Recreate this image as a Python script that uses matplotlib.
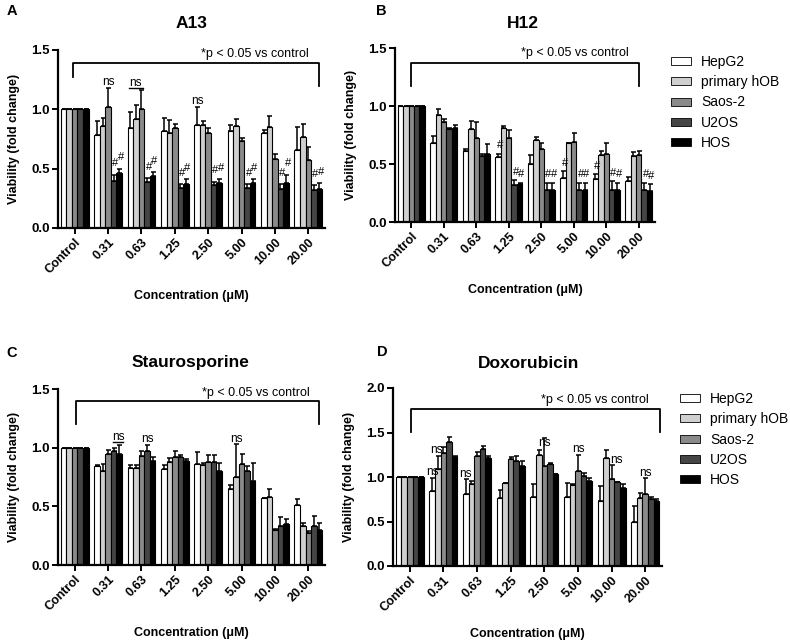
import matplotlib
matplotlib.use('Agg')
import matplotlib.pyplot as plt
from matplotlib.patches import Patch
import numpy as np

plt.rcParams['font.family'] = ['Liberation Sans', 'DejaVu Sans']

# # # data

groups = ['Control', '0.31', '0.63', '1.25', '2.50', '5.00', '10.00', '20.00']
cells = ['HepG2', 'primary hOB', 'Saos-2', 'U2OS', 'HOS']
colors = ['white', '#cfcfcf', '#8a8a8a', '#454545', 'black']

# A13, rows follow cells
a13_mean = [[1.0, 0.78, 0.84, 0.82, 0.87, 0.82, 0.80, 0.66],
            [1.0, 0.86, 0.92, 0.80, 0.87, 0.86, 0.85, 0.77],
            [1.0, 1.02, 1.00, 0.84, 0.80, 0.73, 0.58, 0.57],
            [1.0, 0.40, 0.39, 0.34, 0.36, 0.34, 0.33, 0.32],
            [1.0, 0.46, 0.44, 0.37, 0.38, 0.38, 0.38, 0.33]]
a13_err = [[0, 0.12, 0.14, 0.11, 0.15, 0.05, 0.03, 0.19],
           [0, 0.07, 0.12, 0.11, 0.03, 0.06, 0.09, 0.11],
           [0, 0.16, 0.16, 0.04, 0.04, 0.03, 0.04, 0.11],
           [0, 0.05, 0.03, 0.03, 0.03, 0.03, 0.04, 0.04],
           [0, 0.04, 0.03, 0.04, 0.03, 0.03, 0.07, 0.05]]

# H12
h12_mean = [[1.0, 0.68, 0.61, 0.56, 0.50, 0.38, 0.37, 0.35],
            [1.0, 0.92, 0.80, 0.81, 0.71, 0.68, 0.58, 0.57],
            [1.0, 0.86, 0.72, 0.72, 0.63, 0.69, 0.59, 0.58],
            [1.0, 0.80, 0.57, 0.32, 0.28, 0.28, 0.28, 0.28],
            [1.0, 0.81, 0.59, 0.33, 0.28, 0.28, 0.28, 0.27]]
h12_err = [[0, 0.06, 0.02, 0.03, 0.08, 0.06, 0.04, 0.04],
           [0, 0.05, 0.07, 0.02, 0.02, 0.005, 0.03, 0.03],
           [0, 0.03, 0.14, 0.07, 0.05, 0.08, 0.09, 0.03],
           [0, 0.01, 0.02, 0.04, 0.06, 0.06, 0.07, 0.06],
           [0, 0.03, 0.08, 0.01, 0.06, 0.06, 0.06, 0.06]]

# Staurosporine
stau_mean = [[1.0, 0.84, 0.83, 0.82, 0.86, 0.65, 0.57, 0.51],
             [1.0, 0.80, 0.83, 0.88, 0.85, 0.75, 0.58, 0.33],
             [1.0, 0.95, 0.93, 0.92, 0.88, 0.86, 0.30, 0.27],
             [1.0, 0.97, 0.97, 0.92, 0.88, 0.80, 0.33, 0.33],
             [1.0, 0.95, 0.89, 0.89, 0.80, 0.72, 0.35, 0.30]]
stau_err = [[0, 0.01, 0.02, 0.03, 0.10, 0.03, 0.0, 0.05],
            [0, 0.06, 0.02, 0.03, 0.02, 0.28, 0.07, 0.03],
            [0, 0.03, 0.04, 0.05, 0.06, 0.09, 0.01, 0.02],
            [0, 0.03, 0.05, 0.02, 0.06, 0.04, 0.08, 0.09],
            [0, 0.07, 0.03, 0.01, 0.07, 0.15, 0.04, 0.06]]

# Doxorubicin
doxo_mean = [[1.0, 0.84, 0.81, 0.76, 0.78, 0.77, 0.73, 0.49],
             [1.0, 1.09, 0.92, 0.93, 1.25, 0.91, 1.21, 0.76],
             [1.0, 1.27, 1.24, 1.20, 1.12, 1.07, 0.98, 0.81],
             [1.0, 1.39, 1.32, 1.18, 1.15, 1.01, 0.94, 0.75],
             [1.0, 1.23, 1.21, 1.12, 1.03, 0.95, 0.88, 0.73]]
doxo_err = [[0, 0.15, 0.17, 0.09, 0.14, 0.16, 0.17, 0.18],
            [0, 0.15, 0.04, 0.005, 0.05, 0.01, 0.09, 0.06],
            [0, 0.07, 0.04, 0.03, 0.32, 0.18, 0.16, 0.18],
            [0, 0.06, 0.03, 0.06, 0.005, 0.03, 0.005, 0.03],
            [0, 0.005, 0.03, 0.06, 0.005, 0.04, 0.04, 0.02]]

# '#' marks: (group, cell)
a13_hash = [(g, c) for g in range(1, 8) for c in (3, 4)]
h12_hash = [(3, 0), (3, 3), (3, 4), (4, 3), (4, 4), (5, 0), (5, 3), (5, 4),
            (6, 0), (6, 3), (6, 4), (7, 3), (7, 4)]
# 'ns' labels: (group, bar offset, y, underline span or None)
a13_ns = [(1, 0, 1.23, None), (2, -1.0, 1.225, (-2.3, 0.3)), (4, -2, 1.07, None)]
h12_ns = []
stau_ns = [(1, 1.8, 1.095, (0.9, 2.7)), (2, 1, 1.075, None), (5, -1, 1.075, None)]
doxo_ns = [(1, -2, 1.06, None), (1, -1.3, 1.30, None), (2, -2, 1.03, None),
           (4, 0, 1.38, None), (5, 0, 1.32, None), (6, 0.8, 1.19, None),
           (7, 0, 1.04, None)]

W = 0.166


def draw_panel(ax, mean, err, hashes, ns, ymax, yticks, bracket, note_xy, hash_pad):
    x = np.arange(len(groups))
    mean = np.array(mean)
    err = np.array(err)
    for i in range(len(cells)):
        ax.bar(x + (i - 2) * W, mean[i], W, color=colors[i], edgecolor='black',
               linewidth=0.8, zorder=2)
        ax.errorbar(x + (i - 2) * W, mean[i], yerr=[np.zeros(len(x)), err[i]],
                    fmt='none', ecolor='black', elinewidth=1.1, capsize=1.8,
                    capthick=1.1, zorder=3)
    for g, c in hashes:
        top = mean[c][g] + err[c][g]
        ax.text(g + (c - 2) * W + 0.05, top + hash_pad, '#', ha='center',
                va='center', fontsize=8)
    for g, b, y, ul in ns:
        ax.text(g + b * W, y, 'ns', ha='center', va='center', fontsize=8.5)
        if ul is not None:
            ax.plot([g + ul[0] * W, g + ul[1] * W], [y - 0.045, y - 0.045],
                    color='black', lw=1.0, clip_on=False)
    # bracket vs control
    x0, x1, yh, yl0, yl1 = bracket
    ax.plot([x0, x0, x1, x1], [yl0, yh, yh, yl1], color='black', lw=1.3,
            clip_on=False, zorder=4)
    ax.text(note_xy[0], note_xy[1], '*p < 0.05 vs control', ha='right',
            va='center', fontsize=9)

    ax.set_xlim(-0.5, 7.5)
    ax.set_ylim(0, ymax)
    ax.set_yticks(yticks)
    ax.set_yticklabels(['%.1f' % v for v in yticks], fontweight='bold', fontsize=9.5)
    ax.set_xticks(x)
    ax.set_xticklabels(groups, rotation=45, ha='right', rotation_mode='anchor',
                       fontsize=9, fontweight='bold')
    for s in ['top', 'right']:
        ax.spines[s].set_visible(False)
    for s in ['left', 'bottom']:
        ax.spines[s].set_linewidth(1.6)
    ax.tick_params(direction='out', length=4, width=1.4, pad=2)
    ax.set_ylabel('Viability (fold change)', fontweight='bold', fontsize=9,
                  labelpad=8)
    ax.set_xlabel('Concentration (\u03bcM)', fontweight='bold', fontsize=9,
                  labelpad=10)


fig = plt.figure(figsize=(7.9, 6.41), dpi=100)
W_PX, H_PX = 790.0, 641.0


def box(l, r, t, b):
    return [l / W_PX, 1 - b / H_PX, (r - l) / W_PX, (b - t) / H_PX]


axA = fig.add_axes(box(58, 325, 50, 228))
axB = fig.add_axes(box(395, 655, 48, 222))
axC = fig.add_axes(box(58, 325, 389, 565))
axD = fig.add_axes(box(393, 662, 388, 566))

t15 = [0.0, 0.5, 1.0, 1.5]
draw_panel(axA, a13_mean, a13_err, a13_hash, a13_ns, 1.5, t15,
           (-0.05, 7.33, 1.39, 1.27, 1.20), (7.0, 1.47), 0.095)
draw_panel(axB, h12_mean, h12_err, h12_hash, h12_ns, 1.5, t15,
           (0.0, 7.0, 1.37, 1.17, 1.17), (6.7, 1.46), 0.07)
draw_panel(axC, stau_mean, stau_err, [], stau_ns, 1.5, t15,
           (0.03, 7.33, 1.40, 1.20, 1.20), (7.05, 1.47), 0.08)
draw_panel(axD, doxo_mean, doxo_err, [], doxo_ns, 2.0, [0.0, 0.5, 1.0, 1.5, 2.0],
           (0.05, 7.45, 1.76, 1.51, 1.51), (7.1, 1.87), 0.08)

titles = [('A13', 191, 23), ('H12', 523, 23), ('Staurosporine', 191, 363),
          ('Doxorubicin', 529, 363)]
for t, px, py in titles:
    fig.text(px / W_PX, 1 - py / H_PX, t, ha='center', va='center',
             fontsize=12.5, fontweight='bold')
letters = [('A', 12, 11), ('B', 381, 11), ('C', 12, 353), ('D', 382, 352)]
for t, px, py in letters:
    fig.text(px / W_PX, 1 - py / H_PX, t, ha='center', va='center',
             fontsize=10.5, fontweight='bold')

handles = [Patch(facecolor=colors[i], edgecolor='black', linewidth=0.6)
           for i in range(len(cells))]
for px, py in [(671, 55), (680, 392)]:
    fig.legend(handles, cells, loc='upper left',
               bbox_to_anchor=(px / W_PX, 1 - py / H_PX), frameon=False,
               fontsize=10, handlelength=1.45, handleheight=0.5,
               handletextpad=0.7, labelspacing=0.45, borderpad=0,
               borderaxespad=0)

fig.savefig('out.png', dpi=100)
